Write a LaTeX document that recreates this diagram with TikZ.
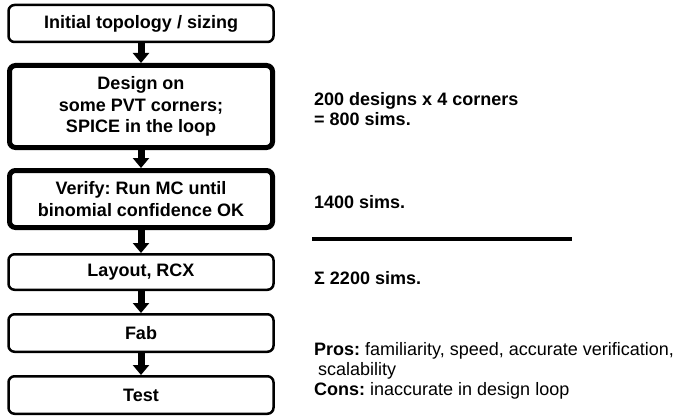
\documentclass[tikz,border=0pt]{standalone}
\usepackage{fontspec}
\setsansfont{Liberation Sans}
\usetikzlibrary{arrows.meta}
\frenchspacing

\tikzset{
  every node/.style={font=\sffamily\bfseries\fontsize{18}{21.5}\selectfont},
  stepbox/.style={draw, line width=2.5pt, rounded corners=6pt, minimum width=265pt, align=center, inner sep=0pt},
  keybox/.style={stepbox, line width=5pt, minimum width=263pt},
  note/.style={anchor=west, align=left, inner sep=0pt, font=\sffamily\fontsize{18}{20}\selectfont},
  flow/.style={-{Triangle[width=16pt,length=10pt]}, line width=7pt},
}

\begin{document}
\begin{tikzpicture}[x=1pt,y=-1pt]
    \useasboundingbox (0,0) rectangle (679,417);
    % flow steps
    \node[stepbox, minimum height=37pt]   (init)   at (141,23.5) {Initial topology / sizing};
    \node[keybox,  minimum height=82pt]   (design) at (141,106.5) {Design on\\some PVT corners;\\SPICE in the loop};
    \node[keybox,  minimum height=57pt]   (verify) at (141,199) {Verify: Run MC until\\binomial confidence OK};
    \node[stepbox, minimum height=35.5pt] (layout) at (141,272) {Layout, RCX};
    \node[stepbox, minimum height=37.5pt] (fab)    at (141,333) {Fab};
    \node[stepbox, minimum height=37.5pt] (test)   at (141,395) {Test};
    \draw[flow] (init) -- (design);
    \draw[flow] (design) -- (verify);
    \draw[flow] (verify) -- (layout);
    \draw[flow] (layout) -- (fab);
    \draw[flow] (fab) -- (test);
    % sim counts
    \node[note, font=\sffamily\bfseries\fontsize{18}{20}\selectfont] (corners) at (314,109.5) {200 designs x 4 corners\\= 800 sims.};
    \node[note, font=\sffamily\bfseries\fontsize{18}{20}\selectfont] (mcsims)  at (314,202) {1400 sims.};
    \draw[line width=4pt] (312,239) -- (572,239);
    \node[note, font=\sffamily\bfseries\fontsize{18}{20}\selectfont] (total)   at (314,278) {Σ 2200 sims.};
    \node[note] (proscons) at (314,371) {\textbf{Pros:} familiarity, speed, accurate verification,\\
      \hspace{4pt}scalability\\\textbf{Cons:} inaccurate in design loop};
\end{tikzpicture}
\end{document}
